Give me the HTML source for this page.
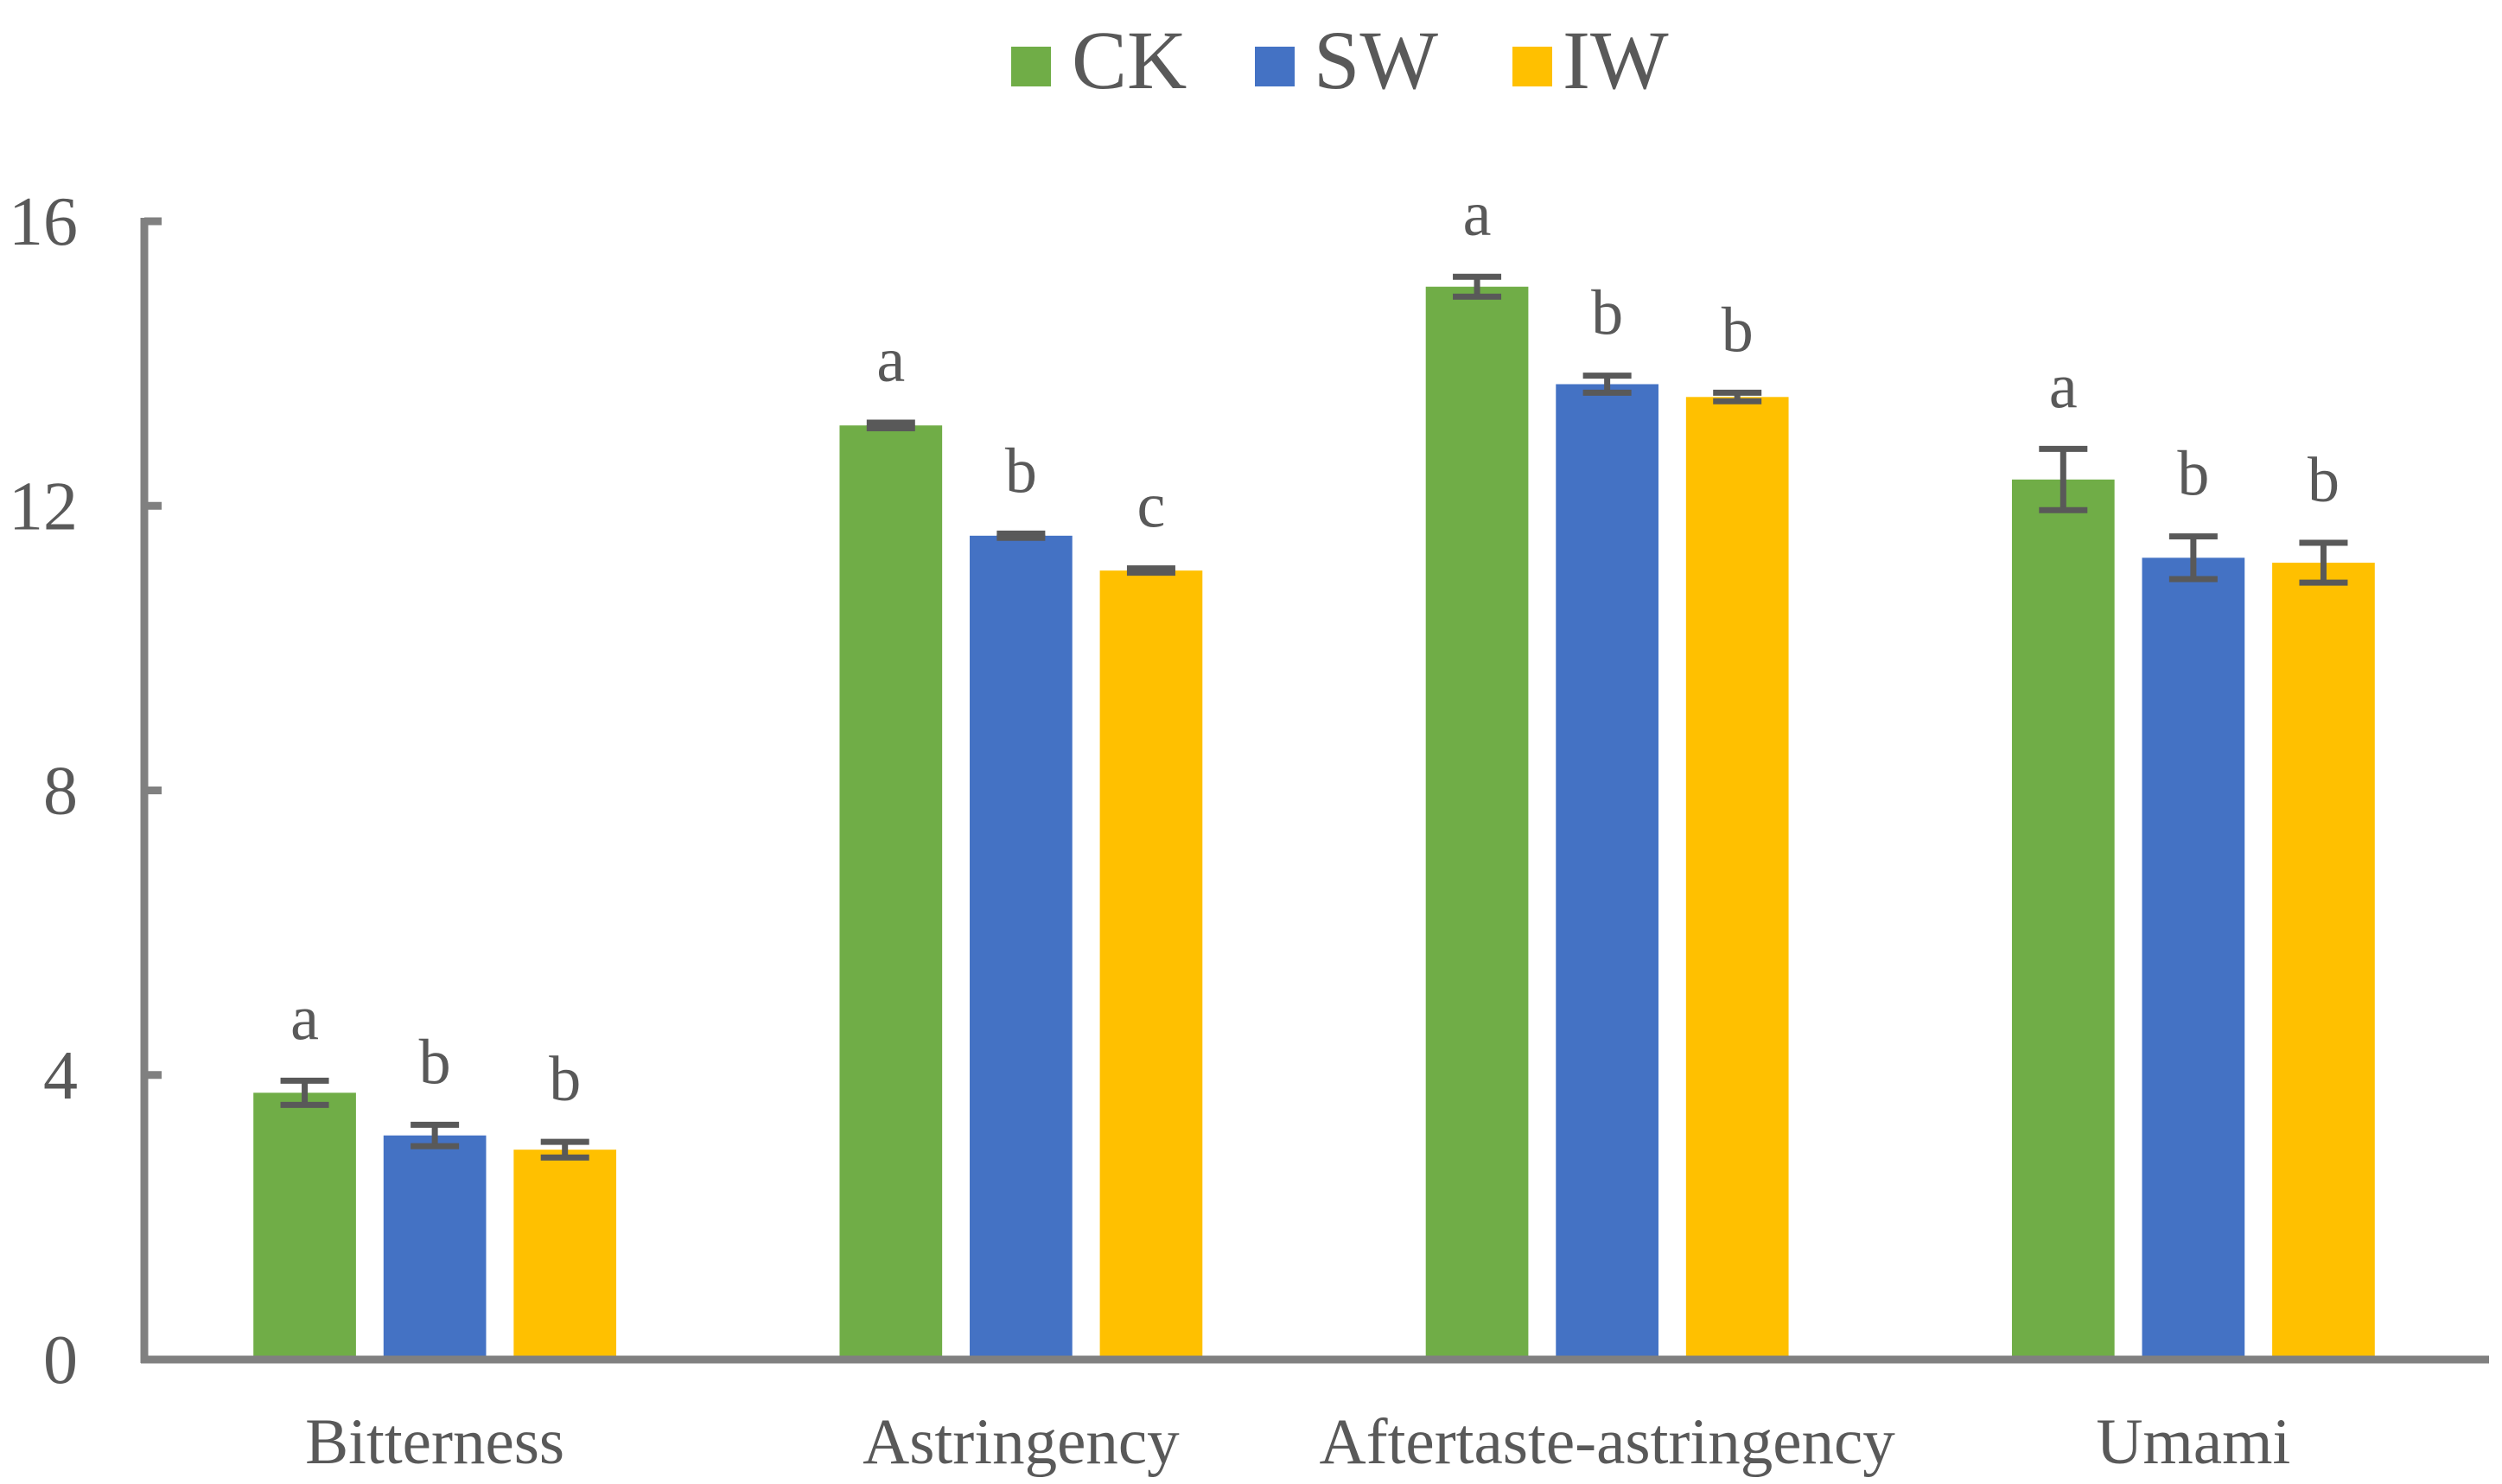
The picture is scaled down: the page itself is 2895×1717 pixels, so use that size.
<!DOCTYPE html>
<html><head><meta charset="utf-8"><style>
html,body{margin:0;padding:0;background:#fff;}
svg{display:block;font-family:"Liberation Serif",serif;}
</style></head><body>
<svg id="chart" width="2895" height="1717" viewBox="0 0 2895 1717" xmlns="http://www.w3.org/2000/svg">
<g id="legend">
 <g><rect x="1170" y="54" width="46" height="46" fill="#70AD47"/><text x="1240" y="102" font-size="96" fill="#595959">CK</text></g>
 <g><rect x="1452" y="54" width="46" height="46" fill="#4472C4"/><text x="1520" y="102" font-size="96" fill="#595959">SW</text></g>
 <g><rect x="1750" y="54" width="46" height="46" fill="#FFC000"/><text x="1808" y="102" font-size="96" fill="#595959">IW</text></g>
</g>
<g id="plot"></g>
</svg>
<script>
const categories = ["Bitterness","Astringency","Aftertaste-astringency","Umami"];
const seriesNames = ["CK","SW","IW"];
const ckValues = [3.75, 13.13, 15.08, 12.37];
const swValues = [3.15, 11.58, 13.71, 11.27];
const iwValues = [2.95, 11.09, 13.53, 11.20];
const ckErrors = [0.17, 0.04, 0.14, 0.43];
const swErrors = [0.15, 0.03, 0.12, 0.30];
const iwErrors = [0.11, 0.03, 0.06, 0.28];
const ckLetters = ["a","a","a","a"];
const swLetters = ["b","b","b","b"];
const iwLetters = ["b","c","b","b"];
const yTicks = [0, 4, 8, 12, 16];

const colors = ["#70AD47","#4472C4","#FFC000"];
const values = [ckValues, swValues, iwValues];
const errors = [ckErrors, swErrors, iwErrors];
const letters = [ckLetters, swLetters, iwLetters];
const NS = "http://www.w3.org/2000/svg";
const X0 = 167, X1 = 2880, Y0 = 1573, YTOP = 256, YMAX = 16;
const yScale = v => Y0 - (v / YMAX) * (Y0 - YTOP);
const catW = (X1 - X0) / categories.length;
const barW = catW * 0.175, gap = catW * 0.047;
const xBar = (c, s) => X0 - 3 + catW * (c + 0.5) + (s - 1) * (barW + gap) - barW / 2;
const plot = document.getElementById('plot');
function mk(tag, attrs) { const e = document.createElementNS(NS, tag); for (const k in attrs) e.setAttribute(k, attrs[k]); return e; }

values.forEach((arr, s) => {
  arr.forEach((v, c) => {
    const r = mk('rect', {x: xBar(c, s), y: yScale(v), width: barW, height: Y0 - yScale(v), fill: colors[s]});
    
    
    plot.appendChild(r);
    const cx = xBar(c, s) + barW / 2, e = errors[s][c];
    const g = mk('g', {stroke: '#595959', 'stroke-width': 7});
    
    
    g.appendChild(mk('line', {x1: cx, x2: cx, y1: yScale(v + e), y2: yScale(v - e)}));
    g.appendChild(mk('line', {x1: cx - 28, x2: cx + 28, y1: yScale(v + e), y2: yScale(v + e)}));
    g.appendChild(mk('line', {x1: cx - 28, x2: cx + 28, y1: yScale(v - e), y2: yScale(v - e)}));
    plot.appendChild(g);
    const t = mk('text', {x: cx, y: yScale(v + e) - 48, 'font-size': 74, fill: '#595959', 'text-anchor': 'middle'});
    t.textContent = letters[s][c];
    
    
    plot.appendChild(t);
  });
});
yTicks.forEach(v => {
  const l = mk('line', {x1: X0, x2: X0 + 20, y1: yScale(v), y2: yScale(v), stroke: '#808080', 'stroke-width': 9});
  
  
  plot.appendChild(l);
  const t = mk('text', {x: 90, y: yScale(v) + 27, 'font-size': 80, fill: '#595959', 'text-anchor': 'end'});
  t.textContent = v;
  
  
  plot.appendChild(t);
});
const ya = mk('line', {x1: X0, x2: X0, y1: YTOP - 4, y2: Y0 + 4, stroke: '#808080', 'stroke-width': 9});


plot.appendChild(ya);
const xa = mk('line', {x1: X0 - 4, x2: X1, y1: Y0, y2: Y0, stroke: '#808080', 'stroke-width': 9});


plot.appendChild(xa);
categories.forEach((c, i) => {
  const t = mk('text', {x: X0 - 3 + catW * (i + 0.5), y: 1693, 'font-size': 75, fill: '#595959', 'text-anchor': 'middle'});
  t.textContent = c;
  
  
  plot.appendChild(t);
});
</script>
</body></html>
